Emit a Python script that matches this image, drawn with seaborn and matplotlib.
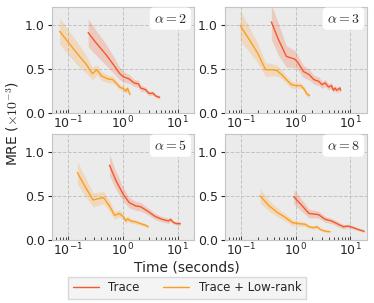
import numpy as np
import matplotlib
matplotlib.use("Agg")
import matplotlib.pyplot as plt
import seaborn as sns

# Panel labels
alphas = [2, 3, 5, 8]

# Trace (red) series: time, MRE, band half-width
trace_t = [
    [0.23, 0.325, 0.49, 0.70, 0.86, 1.01, 1.30, 1.60, 1.92, 2.1, 2.6, 3.0, 3.5, 4.06, 4.7],
    [0.355, 0.48, 0.67, 0.95, 1.09, 1.37, 1.75, 2.14, 2.63, 3.0, 3.45, 3.96, 4.5, 4.85, 5.2, 5.57, 6.4, 6.6],
    [0.566, 0.75, 1.01, 1.30, 1.72, 2.1, 2.8, 3.95, 5.2, 6.9, 7.4, 8.5, 9.7, 11.2],
    [0.91, 1.23, 1.74, 2.6, 3.44, 4.5, 6.0, 7.4, 9.1, 11.2, 13.8, 17.8],
]
trace_y = [
    [0.91, 0.79, 0.66, 0.53, 0.45, 0.41, 0.385, 0.34, 0.33, 0.283, 0.264, 0.22, 0.226, 0.19, 0.177],
    [1.03, 0.83, 0.64, 0.61, 0.57, 0.47, 0.434, 0.377, 0.358, 0.32, 0.34, 0.294, 0.31, 0.257, 0.283, 0.257, 0.283, 0.257],
    [0.845, 0.668, 0.517, 0.423, 0.385, 0.377, 0.328, 0.264, 0.234, 0.215, 0.234, 0.196, 0.185, 0.185],
    [0.49, 0.404, 0.30, 0.287, 0.234, 0.215, 0.177, 0.15, 0.158, 0.14, 0.12, 0.098],
]
trace_err = [
    [0.16, 0.14, 0.12, 0.09, 0.07, 0.06, 0.05, 0.04, 0.04, 0.035, 0.03, 0.025, 0.025, 0.02, 0.02],
    [0.2, 0.18, 0.12, 0.1, 0.08, 0.07, 0.06, 0.05, 0.05, 0.04, 0.04, 0.035, 0.035, 0.03, 0.03, 0.03, 0.03, 0.03],
    [0.12, 0.1, 0.08, 0.06, 0.05, 0.05, 0.04, 0.035, 0.03, 0.03, 0.025, 0.02, 0.02, 0.02],
    [0.08, 0.07, 0.05, 0.04, 0.035, 0.03, 0.03, 0.025, 0.02, 0.02, 0.015, 0.015],
]

# Trace + Low-rank (orange) series
lowrank_t = [
    [0.069, 0.142, 0.214, 0.275, 0.334, 0.40, 0.53, 0.65, 0.77, 0.88, 0.99, 1.06, 1.13, 1.21, 1.34],
    [0.095, 0.14, 0.198, 0.278, 0.365, 0.447, 0.55, 0.67, 0.83, 1.0, 1.23, 1.41, 1.61, 1.77],
    [0.146, 0.2, 0.283, 0.44, 0.566, 0.70, 0.86, 1.01, 1.13, 1.21, 1.4, 1.72, 2.1, 2.6, 2.9],
    [0.22, 0.325, 0.46, 0.65, 0.86, 1.13, 1.5, 1.72, 2.1, 2.43, 2.8, 3.4, 4.2],
]
lowrank_y = [
    [0.925, 0.68, 0.547, 0.445, 0.49, 0.42, 0.385, 0.377, 0.33, 0.29, 0.28, 0.27, 0.245, 0.28, 0.21],
    [0.99, 0.83, 0.68, 0.49, 0.49, 0.48, 0.434, 0.377, 0.32, 0.31, 0.31, 0.27, 0.21, 0.20],
    [0.762, 0.61, 0.453, 0.48, 0.385, 0.28, 0.30, 0.264, 0.215, 0.24, 0.215, 0.204, 0.185, 0.166, 0.15],
    [0.498, 0.385, 0.31, 0.253, 0.196, 0.185, 0.177, 0.15, 0.14, 0.15, 0.12, 0.10, 0.094],
]
lowrank_err = [
    [0.15, 0.13, 0.1, 0.07, 0.06, 0.05, 0.045, 0.04, 0.035, 0.03, 0.03, 0.03, 0.03, 0.03, 0.025],
    [0.17, 0.14, 0.11, 0.08, 0.07, 0.06, 0.05, 0.045, 0.04, 0.035, 0.03, 0.03, 0.03, 0.025],
    [0.13, 0.11, 0.08, 0.07, 0.06, 0.045, 0.04, 0.035, 0.03, 0.03, 0.025, 0.025, 0.02, 0.02, 0.02],
    [0.08, 0.06, 0.05, 0.04, 0.035, 0.03, 0.025, 0.02, 0.02, 0.02, 0.015, 0.015, 0.015],
]

red = "#f4582a"
orange = "#ff9d1e"

sns.set_style("darkgrid", {
    "axes.facecolor": "#ebebeb",
    "axes.edgecolor": "#c4c4c4",
    "grid.color": "#c2c2c2",
    "grid.linestyle": "--",
})
plt.rcParams["font.family"] = ["DejaVu Sans"]
plt.rcParams["mathtext.fontset"] = "cm"

fig, axes = plt.subplots(2, 2, figsize=(3.74, 3.03), dpi=100)
fig.subplots_adjust(left=0.139, right=0.981, top=0.977, bottom=0.208,
                    wspace=0.218, hspace=0.198)

for i, ax in enumerate(axes.flat):
    for t, y, e, c, lab in [(trace_t[i], trace_y[i], trace_err[i], red, "Trace"),
                            (lowrank_t[i], lowrank_y[i], lowrank_err[i], orange, "Trace + Low-rank")]:
        t = np.array(t); y = np.array(y); e = np.array(e)
        ax.fill_between(t, y - e, y + e, color=c, alpha=0.22, linewidth=0)
        sns.lineplot(x=t, y=y, color=c, linewidth=1.0, ax=ax, label=lab, legend=False)
    ax.set_xscale("log")
    ax.set_xlim(0.05, 20)
    ax.set_ylim(0, 1.2)
    ax.set_yticks([0.0, 0.5, 1.0])
    ax.grid(True, which="major", linewidth=0.7)
    ax.grid(False, which="minor")
    for s in ax.spines.values():
        s.set_linewidth(0.8)
    ax.tick_params(axis="x", which="both", direction="in", labelsize=9, length=3, width=0.6, pad=1.5)
    ax.tick_params(axis="x", which="minor", length=2)
    ax.tick_params(axis="y", direction="out", labelsize=9, length=3, width=0.8, left=True, pad=2)
    ax.tick_params(axis="x", bottom=True, which="both")
    ax.text(0.95, 0.89, r"$\alpha=%d$" % alphas[i], transform=ax.transAxes,
            ha="right", va="center", fontsize=10,
            bbox=dict(boxstyle="round,pad=0.3", facecolor="white", edgecolor="none"))
    ax.set_xlabel("")
    ax.set_ylabel("")

fig.text(0.035, 0.594, r"MRE ($\times 10^{-3}$)", rotation=90, ha="center", va="center", fontsize=10)
fig.text(0.5, 0.118, "Time (seconds)", ha="center", va="center", fontsize=10)

handles, labels = axes[0, 0].get_legend_handles_labels()
leg = fig.legend(handles, labels, loc="center", bbox_to_anchor=(0.5, 0.05), ncol=2,
                 fontsize=8.5, frameon=True, fancybox=False, handlelength=2.2,
                 columnspacing=2.0, borderpad=0.4)
leg.get_frame().set_facecolor("#f2f2f2")
leg.get_frame().set_edgecolor("#d0d0d0")

fig.savefig("out.png", dpi=100)
